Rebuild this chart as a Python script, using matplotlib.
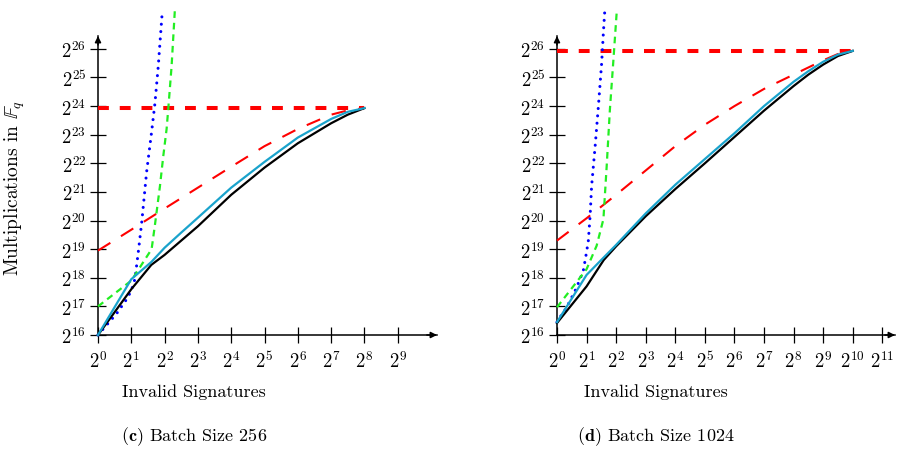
import matplotlib
matplotlib.use("Agg")
import matplotlib.pyplot as plt
import numpy as np

plt.rcParams['font.family'] = 'cmr10'
plt.rcParams['mathtext.fontset'] = 'cm'
plt.rcParams['axes.formatter.use_mathtext'] = True

# all values in log2 units (x = log2 invalid signatures, y = log2 multiplications)

# (c) batch size 256
c_black_x = [0, 1, 1.6, 2, 2.5, 3, 4, 5, 6, 7, 7.5, 8]
c_black_y = [16, 17.6, 18.45, 18.8, 19.3, 19.8, 20.9, 21.85, 22.7, 23.4, 23.7, 23.93]
c_cyan_x = [0, 1, 1.6, 2, 2.5, 3, 4, 5, 6, 7, 7.5, 8]
c_cyan_y = [16, 17.95, 18.55, 19.05, 19.58, 20.1, 21.15, 22.05, 22.9, 23.55, 23.8, 23.93]
c_blue_x = [0, 0.56, 0.86, 1.0, 1.11, 1.21, 1.31, 1.46, 1.61, 1.71, 1.81, 1.86, 1.93]
c_blue_y = [16, 16.75, 17.25, 17.55, 17.96, 18.9, 19.9, 21.7, 23.1, 24.1, 25.4, 26.2, 27.3]
c_green_x = [0, 1, 1.61, 1.71, 1.86, 1.96, 2.06, 2.11, 2.21, 2.31]
c_green_y = [17, 17.9, 19.0, 19.85, 21.2, 22.25, 23.2, 23.9, 25.4, 27.4]
c_red_x = [0, 1, 2, 3, 4, 5, 6, 7, 7.5, 8]
c_red_y = [18.95, 19.68, 20.42, 21.15, 21.88, 22.6, 23.2, 23.7, 23.85, 23.93]
c_flat = 23.93
c_xmax = 8

# (d) batch size 1024
d_black_x = [0, 1, 1.58, 2, 3, 4, 5, 6, 7, 8, 8.5, 9, 9.5, 10]
d_black_y = [16.42, 17.7, 18.62, 19.1, 20.15, 21.1, 22.0, 22.92, 23.84, 24.7, 25.1, 25.45, 25.75, 25.93]
d_cyan_x = [0, 1, 1.57, 2, 3, 4, 5, 6, 7, 8, 8.5, 9, 9.5, 10]
d_cyan_y = [16.45, 18.1, 18.7, 19.15, 20.25, 21.25, 22.15, 23.05, 24.0, 24.85, 25.22, 25.55, 25.8, 25.93]
d_blue_x = [0, 0.1, 0.33, 0.5, 0.64, 0.78, 0.89, 1.0, 1.06, 1.12, 1.17, 1.29, 1.4, 1.51, 1.57, 1.62]
d_blue_y = [16.45, 16.62, 16.97, 17.32, 17.61, 17.96, 18.25, 18.9, 19.3, 20.17, 21.2, 22.6, 24.0, 25.5, 26.6, 27.4]
d_green_x = [0, 1, 1.34, 1.57, 1.68, 1.79, 1.9, 2.02]
d_green_y = [16.97, 18.3, 19.12, 20.05, 21.9, 23.9, 25.5, 27.3]
d_red_x = [0, 1, 2, 3, 4, 5, 6, 7, 8, 9, 9.5, 10]
d_red_y = [19.3, 20.08, 20.9, 21.75, 22.6, 23.35, 24.0, 24.6, 25.1, 25.6, 25.82, 25.93]
d_flat = 25.94
d_xmax = 10

panels = [
    dict(black=(c_black_x, c_black_y), cyan=(c_cyan_x, c_cyan_y), blue=(c_blue_x, c_blue_y),
         green=(c_green_x, c_green_y), red=(c_red_x, c_red_y), flat=c_flat, xmax=c_xmax,
         nticks=10, xlim=10.18, label_x=194, caption=r'$\mathbf{(c)}$ Batch Size 256'),
    dict(black=(d_black_x, d_black_y), cyan=(d_cyan_x, d_cyan_y), blue=(d_blue_x, d_blue_y),
         green=(d_green_x, d_green_y), red=(d_red_x, d_red_y), flat=d_flat, xmax=d_xmax,
         nticks=12, xlim=11.43, label_x=656, caption=r'$\mathbf{(d)}$ Batch Size 1024'),
]

W, H = 897, 452
fig = plt.figure(figsize=(W / 100, H / 100), dpi=100)

# pixel frames: (left, right) of each axes, shared top / bottom
frames = [(98, 437), (557, 895)]
top_px, bot_px = 37, 336
ylim = (16, 26.45)

for p, (l, r) in zip(panels, frames):
    ax = fig.add_axes([l / W, 1 - bot_px / H, (r - l) / W, (bot_px - top_px) / H])
    ax.set_xlim(0, p['xlim'])
    ax.set_ylim(*ylim)

    ax.plot(*p['red'], color='red', lw=1.5, dashes=(7, 6), clip_on=False, zorder=3)
    ax.plot([0, p['xmax']], [p['flat'], p['flat']], color='red', lw=2.9, dashes=(2.7, 2.7),
            clip_on=False, zorder=3)
    ax.plot(*p['blue'], color='blue', lw=2.2, dashes=(0.01, 2.4), dash_capstyle='round',
            clip_on=False, zorder=4)
    ax.plot(*p['green'], color='#22ee22', lw=1.6, dashes=(3, 2.2), clip_on=False, zorder=4)
    ax.plot(*p['black'], color='black', lw=1.6, clip_on=False, zorder=5)
    ax.plot(*p['cyan'], color='#1aa3cc', lw=1.6, clip_on=False, zorder=6)

    for side in ['top', 'right']:
        ax.spines[side].set_visible(False)
    ax.spines['left'].set_linewidth(1.1)
    ax.spines['bottom'].set_linewidth(1.1)

    # arrow heads on axes
    ax.annotate('', xy=(1.0, 0), xytext=(0.97, 0), xycoords='axes fraction',
                arrowprops=dict(arrowstyle='-|>', color='black', lw=1.1,
                                mutation_scale=9, shrinkA=0, shrinkB=0))
    ax.annotate('', xy=(0, 1.0), xytext=(0, 0.97), xycoords='axes fraction',
                arrowprops=dict(arrowstyle='-|>', color='black', lw=1.1,
                                mutation_scale=9, shrinkA=0, shrinkB=0))

    xt = np.arange(p['nticks'])
    ax.set_xticks(xt)
    ax.set_xticklabels([r'$2^{%d}$' % k for k in xt])
    yt = np.arange(16, 27)
    ax.set_yticks(yt)
    ax.set_yticklabels([r'$2^{%d}$' % k for k in yt])
    ax.tick_params(direction='inout', length=11, width=0.9, labelsize=13.5, pad=3)
    ax.tick_params(axis='x', pad=5)

    fig.text(p['label_x'] / W, 1 - 392 / H, 'Invalid Signatures',
             ha='center', va='center', fontsize=13)
    fig.text(p['label_x'] / W, 1 - 437 / H, p['caption'],
             ha='center', va='center', fontsize=13)

fig.text(15 / W, 1 - 188 / H, r'Multiplications in $\mathbb{F}_q$', rotation=90,
         ha='center', va='center', fontsize=14)

fig.savefig('out.png', dpi=100)
